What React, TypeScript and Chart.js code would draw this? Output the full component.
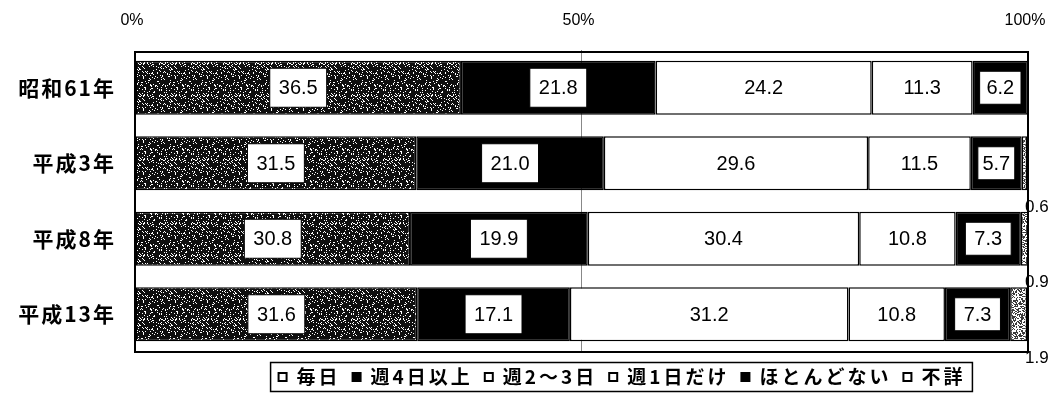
import React, { useEffect, useRef } from "react";
import { Chart, registerables } from "chart.js";

Chart.register(...registerables);

const categories = ["昭和61年", "平成3年", "平成8年", "平成13年"];
const seriesNames = ["毎日", "週4日以上", "週2～3日", "週1日だけ", "ほとんどない", "不詳"];
const daily = [36.5, 31.5, 30.8, 31.6];
const fourPlus = [21.8, 21.0, 19.9, 17.1];
const twoThree = [24.2, 29.6, 30.4, 31.2];
const oneDay = [11.3, 11.5, 10.8, 10.8];
const rarely = [6.2, 5.7, 7.3, 7.3];
const unknown = [0, 0.6, 0.9, 1.9];
const xTickValues = [0, 50, 100];

const seriesValues = [daily, fourPlus, twoThree, oneDay, rarely, unknown];
const boxedLabel = [true, true, false, false, true, false];
const legendFilled = [false, true, false, false, true, false];

const CJK = "'Noto Sans CJK JP', 'Noto Sans', sans-serif";
const NUM = "'Liberation Sans', Arial, sans-serif";

const W = 1048;
const H = 385;

function hash(x: number, y: number): number {
  let h = (Math.imul(x, 374761393) + Math.imul(y, 668265263)) >>> 0;
  h = Math.imul(h ^ (h >>> 13), 1274126177) >>> 0;
  h = (h ^ (h >>> 16)) >>> 0;
  return (h % 1000) / 1000;
}

function makePattern(ctx: CanvasRenderingContext2D, density: number, dark: number[]) {
  const size = 32;
  const c = document.createElement("canvas");
  c.width = size;
  c.height = size;
  const p = c.getContext("2d")!;
  const img = p.createImageData(size, size);
  for (let y = 0; y < size; y++) {
    for (let x = 0; x < size; x++) {
      const v = hash(x + 7, y + 13);
      const idx = (y * size + x) * 4;
      const col = v < density ? dark : [255, 255, 255];
      img.data[idx] = col[0];
      img.data[idx + 1] = col[1];
      img.data[idx + 2] = col[2];
      img.data[idx + 3] = 255;
    }
  }
  p.putImageData(img, 0, 0);
  return ctx.createPattern(c, "repeat")!;
}

const framePlugin = {
  id: "frame",
  beforeDraw(chart: any) {
    chart.ctx.letterSpacing = "2px";
  },
  afterDatasetsDraw(chart: any) {
    const ctx = chart.ctx as CanvasRenderingContext2D;
    const a = chart.chartArea;
    ctx.save();
    ctx.letterSpacing = "0px";
    ctx.strokeStyle = "#000";
    ctx.lineWidth = 2;
    ctx.strokeRect(a.left, a.top + 2, a.right - a.left, a.bottom - a.top - 2);

    ctx.textBaseline = "middle";
    chart.data.datasets.forEach((ds: any, di: number) => {
      const meta = chart.getDatasetMeta(di);
      meta.data.forEach((el: any, i: number) => {
        const v = ds.data[i];
        if (!v) return;
        const p = el.getProps(["x", "base", "y", "height"], true);
        const txt = v.toFixed(1);
        if (di === 5) {
          ctx.font = `17px ${NUM}`;
          ctx.textAlign = "left";
          ctx.fillStyle = "#000";
          ctx.fillText(txt, a.right - 3, p.y + p.height / 2 + 17);
          return;
        }
        ctx.font = `20px ${NUM}`;
        const cx = (p.x + p.base) / 2;
        const seg = p.x - p.base;
        const tw = ctx.measureText(txt).width;
        if (boxedLabel[di]) {
          const w = Math.min(tw + 18, seg - 14);
          const h = seg > 100 ? 39 : 33;
          ctx.fillStyle = "#fff";
          ctx.fillRect(cx - w / 2, p.y - h / 2, w, h);
          ctx.strokeStyle = "#000";
          ctx.lineWidth = 1;
          ctx.strokeRect(cx - w / 2, p.y - h / 2, w, h);
        }
        ctx.textAlign = "center";
        ctx.fillStyle = "#000";
        ctx.fillText(txt, cx, p.y + 1);
      });
    });
    ctx.restore();
    ctx.letterSpacing = "0px";
  },
  afterDraw(chart: any) {
    const ctx = chart.ctx as CanvasRenderingContext2D;
    const a = chart.chartArea;
    ctx.save();
    ctx.font = `bold 19px ${CJK}`;
    ctx.letterSpacing = "3px";
    const marker = 10;
    const g1 = 9;
    const g2 = 11;
    const widths = seriesNames.map((n) => ctx.measureText(n).width);
    let total = 0;
    widths.forEach((w, i) => {
      total += marker + g1 + w + (i < widths.length - 1 ? g2 : 0);
    });
    const padX = 7;
    const cxBox = (a.left + a.right) / 2 + 40;
    const boxW = total + padX * 2;
    const boxL = cxBox - boxW / 2;
    const cy = a.bottom + 25;
    const boxH = 29;
    ctx.strokeStyle = "#000";
    ctx.lineWidth = 1.5;
    ctx.strokeRect(boxL, cy - boxH / 2, boxW, boxH);
    let x = boxL + padX;
    ctx.textBaseline = "middle";
    ctx.textAlign = "left";
    seriesNames.forEach((n, i) => {
      if (legendFilled[i]) {
        ctx.fillStyle = "#000";
        ctx.fillRect(x, cy - marker / 2, marker, marker);
      } else {
        ctx.lineWidth = 2;
        ctx.strokeRect(x + 1, cy - marker / 2 + 1, marker - 2, marker - 2);
      }
      x += marker + g1;
      ctx.fillStyle = "#000";
      ctx.fillText(n, x, cy);
      x += widths[i] + g2;
    });
    ctx.restore();
  },
};

export default function App() {
  const ref = useRef<HTMLCanvasElement>(null);
  useEffect(() => {
    const canvas = ref.current!;
    const ctx = canvas.getContext("2d")!;
    const darkPat = makePattern(ctx, 0.86, [15, 15, 15]);
    const lightPat = makePattern(ctx, 0.5, [60, 60, 60]);
    const fills: any[] = [darkPat, "#000", "#fff", "#fff", "#000", lightPat];
    const chart = new Chart(canvas, {
      type: "bar",
      data: {
        labels: categories,
        datasets: seriesValues.map((vals, i) => ({
          label: seriesNames[i],
          data: vals,
          backgroundColor: fills[i],
          borderColor: "#000",
          borderWidth: 1.5,
          borderSkipped: false,
          barPercentage: 0.715,
          categoryPercentage: 1,
        })),
      },
      options: {
        indexAxis: "y",
        animation: false,
        responsive: false,
        devicePixelRatio: 1,
        layout: { padding: { left: 0, right: 28, top: 0, bottom: 41 } },
        plugins: {
          legend: { display: false },
          tooltip: { enabled: false },
        },
        scales: {
          x: {
            position: "top",
            stacked: true,
            min: 0,
            max: 100,
            afterBuildTicks: (scale: any) => {
              scale.ticks = xTickValues.map((v) => ({ value: v }));
            },
            afterFit: (scale: any) => {
              scale.height = 42;
            },
            ticks: {
              z: 1,
              padding: 4,
              labelOffset: -3,
              color: "#000",
              font: { family: NUM, size: 16, lineHeight: 3.2 },
              maxRotation: 0,
              callback: (v: any) => `${v}%`,
            },
            grid: {
              drawTicks: false,
              color: (c: any) => (c.tick && c.tick.value === 50 ? "#888" : "rgba(0,0,0,0)"),
              lineWidth: 1,
            },
            border: { display: false },
          },
          y: {
            stacked: true,
            afterFit: (scale: any) => {
              scale.width = 127;
            },
            ticks: {
              padding: 19,
              color: "#000",
              font: { family: CJK, size: 21, weight: "bold" },
            },
            grid: { display: false, drawTicks: false },
            border: { display: false },
          },
        },
      },
      plugins: [framePlugin],
    } as any);
    return () => chart.destroy();
  }, []);
  return (
    <div style={{ width: W, height: H }}>
      <canvas ref={ref} width={W} height={H} style={{ display: "block", width: W, height: H }} />
    </div>
  );
}
